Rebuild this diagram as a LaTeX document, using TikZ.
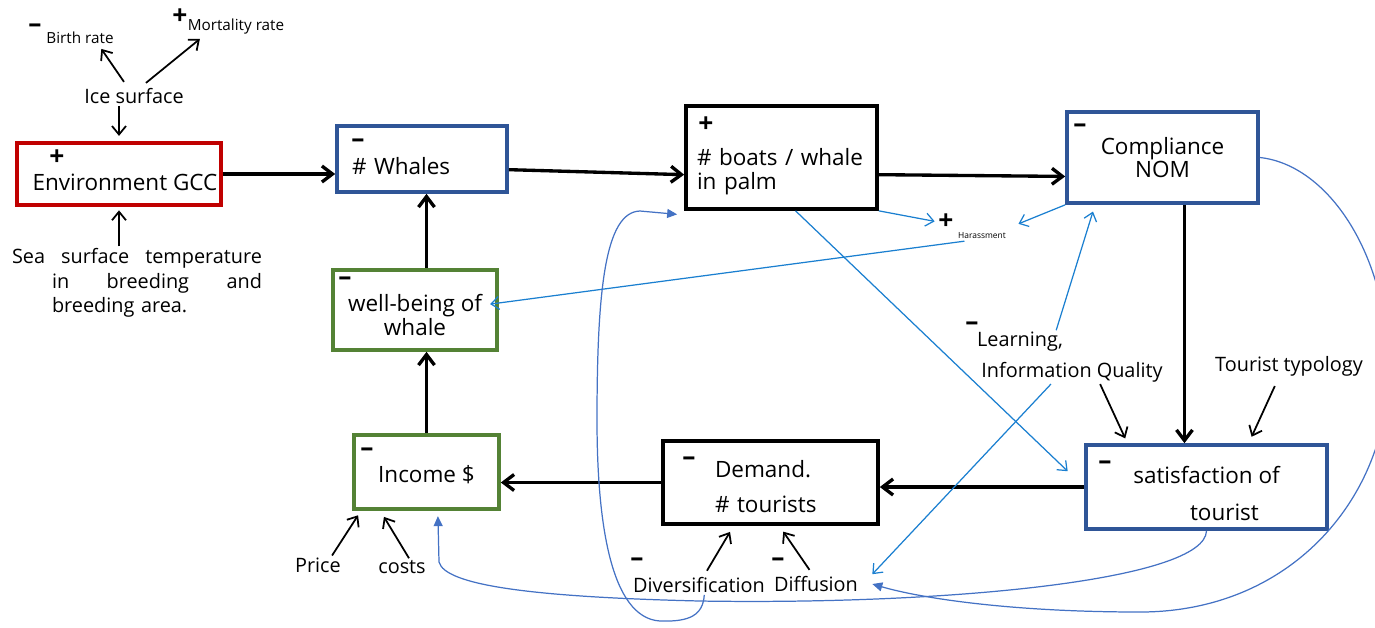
\documentclass[tikz,border=0pt]{standalone}
\usepackage{fontspec}
\setmainfont{Open Sans}
\usetikzlibrary{arrows.meta}
\definecolor{mRed}{HTML}{C00000}
\definecolor{mBlue}{HTML}{2F5597}
\definecolor{mGreen}{HTML}{548235}
\definecolor{lBlue}{HTML}{1A7FD0}
\definecolor{cBlue}{HTML}{4472C4}
\newcommand\bxfont{\fontsize{12.8}{13.5}\selectfont}
\newcommand\lbfont{\fontsize{11.3}{14}\selectfont}
\newcommand\smfont{\fontsize{8.7}{10}\selectfont}
\newcommand\tnfont{\fontsize{4.8}{5}\selectfont}

\begin{document}
\begin{tikzpicture}[x=0.02cm, y=-0.02cm,
  bx/.style={draw, line width=2.1pt, inner sep=2pt, font=\bxfont, align=center},
  lab/.style={font=\lbfont, inner sep=1pt},
  sgn/.style={font=\bfseries\fontsize{15}{15}\selectfont, inner sep=0pt},
  main/.style={-{Straight Barb[length=2.1mm, width=3.2mm]}, line width=1.9pt},
  aux/.style={-{Straight Barb[length=1.7mm, width=2.8mm]}, line width=1pt},
  lnk/.style={lBlue, -{Straight Barb[length=1.6mm, width=2.6mm]}, line width=0.7pt},
  crv/.style={cBlue, -{Triangle[length=2mm, width=1.8mm]}, line width=0.7pt}]
  \useasboundingbox (0,0) rectangle (1375,627);
  % boxes
  \node[bx, draw=mRed, minimum width=4.08cm, minimum height=1.24cm, text height=18.7pt] (env) at (119,174) {\hspace*{6.8pt}Environment GCC};
  \node[bx, draw=mBlue, minimum width=3.4cm, minimum height=1.32cm, text width=2.8cm, align=left, text height=17.7pt] (whales) at (422,159) {\# Whales};
  \node[bx, draw=black, minimum width=3.82cm, minimum height=2.06cm, text width=3.38cm, align=left, text height=25.7pt] (boats) at (781.5,157.5) {\# boats / whale\\in palm};
  \node[bx, draw=mBlue, minimum width=3.82cm, minimum height=1.82cm] (comp) at (1162.5,157.5) {Compliance\\NOM};
  \node[bx, draw=mGreen, minimum width=3.28cm, minimum height=1.6cm, text height=28.9pt] (well) at (415,310) {well-being of\\whale};
  \node[bx, draw=mGreen, minimum width=2.9cm, minimum height=1.48cm, text height=13.1pt] (income) at (426.5,472) {Income \$};
  \node[bx, draw=black, minimum width=4.3cm, minimum height=1.66cm, text width=2.22cm, align=left, text height=14.3pt] (demand) at (770.5,482.5) {Demand.\\[6pt]\# tourists};
  \node[bx, draw=mBlue, minimum width=4.82cm, minimum height=1.68cm, text height=38pt] (satis) at (1206.5,487) {satisfaction of\\[7.4pt]\hspace*{20.4pt}tourist};
  % free labels
  \node[lab, font=\smfont] (birth) at (80,38) {Birth rate};
  \node[lab, font=\smfont] (mort) at (236,27) {Mortality rate};
  \node[lab] (ice) at (134,96) {Ice surface};
  \node[lab, text width=5cm, align=left] (sea) at (137,283)
    {\hbox to 5cm{Sea\hfill surface\hfill temperature}\\
     \hspace*{0.8cm}\hbox to 4.2cm{in\hfill breeding\hfill and}\\
     \hspace*{0.8cm}breeding area.};
  \node[lab] (learn) at (1020,342) {Learning,};
  \node[lab] (infoq) at (1072,372) {Information Quality};
  \node[lab] (typo) at (1289,366) {Tourist typology};
  \node[lab] (price) at (318,565) {Price};
  \node[lab] (costs) at (402,567) {costs};
  \node[lab] (divers) at (699,585) {Diversification};
  \node[lab] (diff) at (816,584) {Diffusion};
  \node[lab, font=\tnfont] (harass) at (982,236) {Harassment};
  % signs
  \node[sgn] (birthSg) at (35,28) {–};
  \node[sgn] (mortSg) at (180,17) {+};
  \node[sgn] (envSg) at (57,158) {+};
  \node[sgn] (whalesSg) at (358,143) {–};
  \node[sgn] (boatsSg) at (706,125) {+};
  \node[sgn] (compSg) at (1080,128) {–};
  \node[sgn] (wellSg) at (345,281) {–};
  \node[sgn] (incomeSg) at (367,452) {–};
  \node[sgn] (demandSg) at (689,461) {–};
  \node[sgn] (satisSg) at (1105,465) {–};
  \node[sgn] (learnSg) at (972,326) {–};
  \node[sgn] (diversSg) at (637,562) {–};
  \node[sgn] (diffSg) at (778,562) {–};
  \node[sgn] (harSg) at (946,222) {+};
  % main loop
  \draw[main] (env.east) -- (env.east -| whales.west);
  \draw[main] (whales.-7) -- (boats.190);
  \draw[main] (boats.-10) -- (comp.191);
  \draw[main] ([xshift=12.5pt]comp.south) -- ([xshift=12.5pt]comp.south |- satis.north);
  \draw[main] (satis.west) -- (satis.west -| demand.east);
  \draw[main] (demand.west) -- (demand.west -| income.east);
  \draw[main] (income.north) -- (income.north |- well.south);
  \draw[main] (income.north |- well.north) -- (income.north |- whales.south);
  % side influences
  \draw[aux, shorten <=3pt, shorten >=2pt] ([xshift=-4pt]ice.north) -- ([xshift=11pt]birth.south);
  \draw[aux, shorten <=3pt, shorten >=2pt] ([xshift=4.5pt]ice.north) -- ([xshift=-19pt]mort.south);
  \draw[aux, shorten >=3pt] (ice.south -| env.north) -- (env.north);
  \draw[aux, shorten >=2pt] (env.south |- sea.north) -- (env.south);
  \draw[aux, shorten >=3pt] ([xshift=16pt]infoq.south) -- ([xshift=-45pt]satis.north);
  \draw[aux, shorten <=5pt, shorten >=4pt] ([xshift=-6pt]typo.south) -- ([xshift=24pt]satis.north);
  \draw[aux, shorten >=3pt] ([xshift=8pt]price.north) -- ([xshift=5pt]income.south west);
  \draw[aux, shorten >=4pt] ([xshift=4pt]costs.north) -- ([xshift=16pt]income.south west);
  \draw[aux, shorten <=3pt, shorten >=4pt] ([xshift=3pt]divers.north) -- ([xshift=-21pt]demand.south);
  \draw[aux, shorten <=3pt, shorten >=4pt] ([xshift=-2pt]diff.north) -- ([xshift=5pt]demand.south);
  % blue links
  \draw[lnk, shorten >=2pt] (boats.south east) -- (harSg.west);
  \draw[lnk] (comp.south west) -- ([xshift=6pt, yshift=4pt]harass.north east);
  \draw[lnk, shorten >=-5pt] ([xshift=-10pt]harass.south) -- ([yshift=4pt]well.east);
  \draw[lnk, shorten >=13pt] ([xshift=8pt]boats.south) -- (satis.west);
  \draw[lnk, shorten >=4pt] ([xshift=-5pt]learn.north east) -- ([xshift=17pt]comp.south west);
  \draw[lnk] ([xshift=-12pt]infoq.south) -- ([xshift=7pt]diff.north east);
  % feedback curves
  \draw[crv] ([xshift=3pt]divers.south) .. controls (703,615) and (690,622) .. (660,621)
    .. controls (610,618) and (597,520) .. (597,420)
    .. controls (597,290) and (605,212) .. (640,211) -- ([xshift=-4pt, yshift=-2pt]boats.south west);
  \draw[crv] (satis.south) .. controls (1205,580) and (950,605) .. (700,601)
    .. controls (530,597) and (445,585) .. (439,562) -- ([xshift=6.5pt, yshift=-3pt]income.south);
  \draw[crv] (comp.east) .. controls (1330,165) and (1392,260) .. (1388,380)
    .. controls (1384,500) and (1290,612) .. (1140,612)
    .. controls (1010,612) and (920,598) .. ([xshift=7pt]diff.east);
\end{tikzpicture}
\end{document}
